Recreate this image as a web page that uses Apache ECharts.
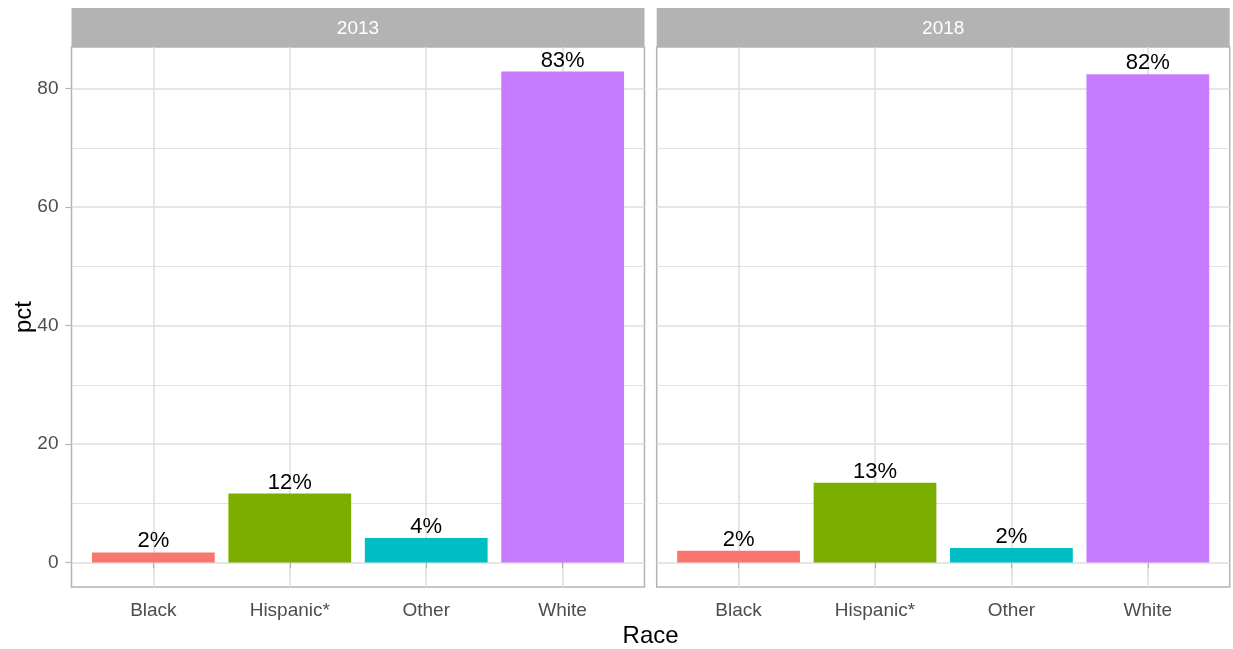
<!DOCTYPE html>
<html>
<head>
<meta charset="utf-8">
<script src="https://cdn.jsdelivr.net/npm/echarts@6/dist/echarts.min.js"></script>
<style>
  html, body { margin: 0; padding: 0; background: #ffffff; }
  #chart { width: 1233px; height: 649px; }
</style>
</head>
<body>
<div id="chart"></div>
<script>
// ---- data ----
const categories = ['Black', 'Hispanic*', 'Other', 'White'];
const panels = ['2013', '2018'];
const pct2013 = [1.69, 11.64, 4.12, 82.9];
const pct2018 = [1.96, 13.45, 2.43, 82.45];
const yMajorTicks = [0, 20, 40, 60, 80];
const yMinorTicks = [10, 30, 50, 70];
const yRange = [-4.15, 87.05];

// ---- style / layout ----
const colors = ['#F8766D', '#7CAE00', '#00BFC4', '#C77CFF'];
const FONT = 'Liberation Sans, Arial, sans-serif';
const panelLeft = [71.5, 656.7];
const panelWidth = 573;
const panelTop = 47;
const panelHeight = 540;
const stripTop = 8;
const seriesValues = [pct2013, pct2018];

const chart = echarts.init(document.getElementById('chart'), null, { renderer: 'canvas' });

const grids = [], xAxes = [], yAxes = [], series = [], graphics = [];
const catPos = categories.map((c, i) => i + 1);

panels.forEach((p, k) => {
  grids.push({
    left: panelLeft[k], top: panelTop, width: panelWidth, height: panelHeight,
    show: true, borderColor: '#b3b3b3', borderWidth: 1.5, backgroundColor: 'transparent',
    containLabel: false
  });
  xAxes.push({
    type: 'value', gridIndex: k, min: 0.4, max: 4.6,
    axisLine: { show: false },
    axisTick: { show: true, customValues: catPos, length: 6, lineStyle: { color: '#b3b3b3', width: 1.2 } },
    axisLabel: {
      show: true, customValues: catPos, margin: 14,
      color: '#4d4d4d', fontSize: 19, fontFamily: FONT,
      formatter: v => categories[Math.round(v) - 1] || ''
    },
    splitLine: { show: true, lineStyle: { color: '#dedede', width: 1.5 } }
  });
  // major y axis
  yAxes.push({
    type: 'value', gridIndex: k, min: yRange[0], max: yRange[1],
    axisLine: { show: false },
    axisTick: { show: k === 0, customValues: yMajorTicks, length: 6, lineStyle: { color: '#b3b3b3', width: 1.2 } },
    axisLabel: { show: k === 0, customValues: yMajorTicks, margin: 13, color: '#4d4d4d', fontSize: 19, fontFamily: FONT },
    splitLine: { show: true, lineStyle: { color: '#dedede', width: 1.5 } }
  });
  // minor y gridlines
  yAxes.push({
    type: 'value', gridIndex: k, min: yRange[0], max: yRange[1],
    axisLine: { show: false },
    axisTick: { show: false, customValues: yMinorTicks },
    axisLabel: { show: false, customValues: yMinorTicks },
    splitLine: { show: true, lineStyle: { color: '#e2e2e2', width: 1 } }
  });
  series.push({
    type: 'bar', xAxisIndex: k, yAxisIndex: 2 * k, barWidth: '90%',
    data: seriesValues[k].map((v, i) => ({ value: [i + 1, v], itemStyle: { color: colors[i] } })),
    label: {
      show: true, position: 'top', distance: 0,
      color: '#000000', fontSize: 22, fontFamily: FONT,
      formatter: d => Math.round(d.value[1]) + '%'
    },
    silent: true, animation: false
  });
  graphics.push({
    type: 'rect',
    shape: { x: panelLeft[k], y: stripTop, width: panelWidth, height: panelTop - stripTop },
    style: { fill: '#b3b3b3' }, z: 10
  });
  graphics.push({
    type: 'text', x: panelLeft[k] + panelWidth / 2, y: (stripTop + panelTop) / 2 + 1,
    style: { text: p, fill: '#ffffff', font: '19px ' + FONT, textAlign: 'center', textVerticalAlign: 'middle' },
    z: 11
  });
});

graphics.push({
  type: 'text', x: (panelLeft[0] + panelLeft[1] + panelWidth) / 2, y: 636,
  style: { text: 'Race', fill: '#000000', font: '24px ' + FONT, textAlign: 'center', textVerticalAlign: 'middle' },
  z: 11
});
graphics.push({
  type: 'text', x: 24, y: panelTop + panelHeight / 2, rotation: Math.PI / 2,
  style: { text: 'pct', fill: '#000000', font: '24px ' + FONT, textAlign: 'center', textVerticalAlign: 'middle' },
  z: 11
});

chart.setOption({
  animation: false,
  backgroundColor: '#ffffff',
  grid: grids,
  xAxis: xAxes,
  yAxis: yAxes,
  series: series,
  graphic: graphics
});
</script>
</body>
</html>
